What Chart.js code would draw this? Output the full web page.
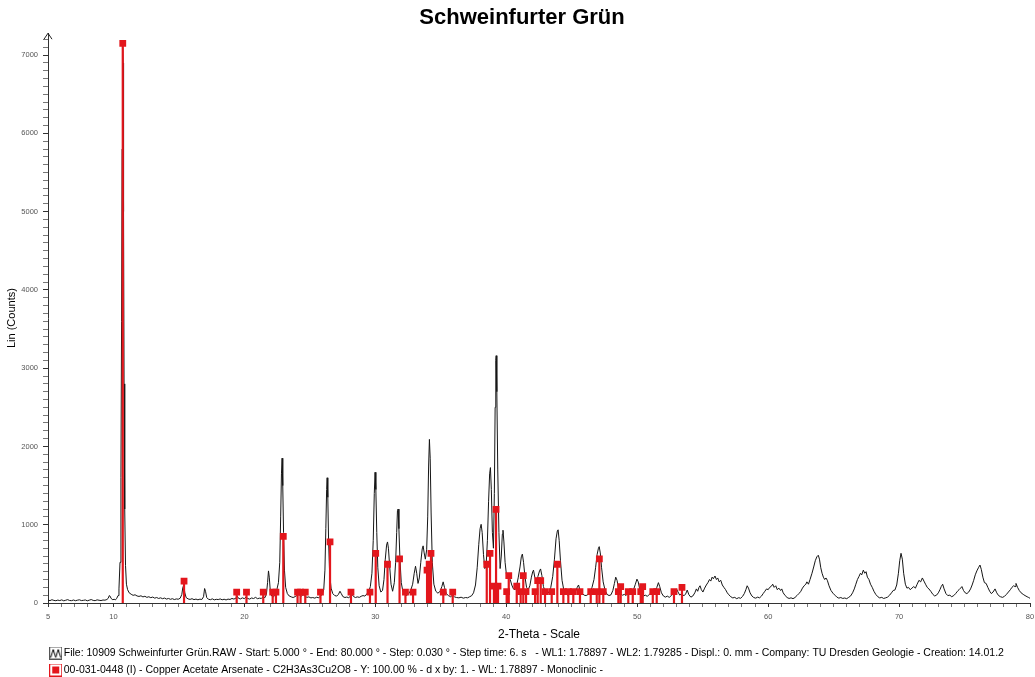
<!DOCTYPE html>
<html>
<head>
<meta charset="utf-8">
<script src="https://cdn.jsdelivr.net/npm/chart.js@4.4.0/dist/chart.umd.min.js"></script>
<style>
html,body{margin:0;padding:0;background:#ffffff;}
#wrap{width:1035px;height:677px;position:relative;}
canvas{display:block;}
</style>
</head>
<body>
<div id="wrap"><canvas id="c" width="1035" height="677"></canvas></div>
<script>
// ---------------- data ----------------
const chartTitle = 'Schweinfurter Grün';
const xAxisTitle = '2-Theta - Scale';
const yAxisTitle = 'Lin (Counts)';
const xTickLabels = [5, 10, 20, 30, 40, 50, 60, 70, 80];
const yTickLabels = [0, 1000, 2000, 3000, 4000, 5000, 6000, 7000];
const patternLabel = 'File: 10909 Schweinfurter Grün.RAW - Start: 5.000 ° - End: 80.000 ° - Step: 0.030 ° - Step time: 6. s   - WL1: 1.78897 - WL2: 1.79285 - Displ.: 0. mm - Company: TU Dresden Geologie - Creation: 14.01.2';
const referenceLabel = '00-031-0448 (I) - Copper Acetate Arsenate - C2H3As3Cu2O8 - Y: 100.00 % - d x by: 1. - WL: 1.78897 - Monoclinic -';

// measured pattern: [2-theta, counts]
const patternPoints = [
[5.00,38],[5.15,30],[5.30,42],[5.45,33],[5.60,29],[5.75,37],[5.90,31],[6.05,40],[6.20,28],[6.35,35],[6.50,43],[6.65,32],[6.80,30],[6.95,38],[7.10,29],[7.25,36],[7.40,41],[7.55,31],[7.70,34],[7.85,39],[8.00,28],[8.15,36],[8.30,44],[8.45,33],[8.60,30],[8.75,40],[8.90,35],[9.05,31],[9.20,38],[9.35,36],[9.50,45],[9.60,60],[9.68,95],[9.74,88],[9.82,58],[9.95,42],[10.05,48],[10.15,40],[10.25,60],[10.35,95],[10.42,180],[10.50,520],[10.57,1600],[10.62,3600],[10.66,5800],[10.70,7100],[10.73,6900],[10.77,5000],[10.81,2800],[10.86,1200],[10.92,480],[10.99,240],[11.08,170],[11.20,130],[11.35,112],[11.50,98],[11.65,105],[11.80,90],[11.95,84],[12.10,92],[12.25,78],[12.40,86],[12.55,72],[12.70,80],[12.85,68],[13.00,76],[13.15,62],[13.30,70],[13.45,58],[13.60,66],[13.75,55],[13.90,63],[14.05,50],[14.20,58],[14.35,47],[14.50,55],[14.65,44],[14.80,52],[14.95,48],[15.10,62],[15.22,110],[15.30,200],[15.37,225],[15.45,130],[15.55,70],[15.70,52],[15.85,46],[16.00,55],[16.15,43],[16.30,50],[16.45,41],[16.60,49],[16.75,45],[16.88,80],[16.96,185],[17.03,150],[17.12,70],[17.25,48],[17.40,42],[17.55,53],[17.70,40],[17.85,47],[18.00,44],[18.15,52],[18.30,41],[18.45,48],[18.60,39],[18.75,50],[18.90,45],[19.05,58],[19.20,50],[19.35,62],[19.45,88],[19.55,60],[19.70,52],[19.85,66],[20.00,55],[20.12,78],[20.25,58],[20.40,50],[20.55,64],[20.70,57],[20.85,72],[21.00,55],[21.15,62],[21.30,58],[21.45,85],[21.55,65],[21.68,110],[21.77,260],[21.84,410],[21.90,330],[21.98,150],[22.08,90],[22.20,78],[22.32,95],[22.45,150],[22.60,260],[22.70,520],[22.77,1100],[22.83,1650],[22.88,1850],[22.93,1500],[22.99,900],[23.06,420],[23.15,200],[23.28,120],[23.42,90],[23.58,78],[23.72,70],[23.88,82],[24.00,95],[24.10,130],[24.22,100],[24.35,88],[24.50,110],[24.62,85],[24.78,72],[24.92,78],[25.08,65],[25.22,70],[25.38,62],[25.52,74],[25.68,66],[25.82,90],[25.95,110],[26.06,170],[26.15,420],[26.22,950],[26.28,1450],[26.32,1600],[26.37,1350],[26.43,800],[26.51,380],[26.62,190],[26.75,120],[26.90,95],[27.05,88],[27.18,110],[27.30,150],[27.40,120],[27.52,82],[27.68,70],[27.82,76],[27.96,68],[28.10,85],[28.22,110],[28.34,82],[28.48,70],[28.62,78],[28.78,72],[28.92,86],[29.06,95],[29.20,88],[29.35,115],[29.50,150],[29.62,210],[29.74,380],[29.84,800],[29.92,1400],[29.98,1670],[30.04,1450],[30.11,900],[30.19,450],[30.29,220],[30.42,140],[30.55,160],[30.66,300],[30.76,560],[30.86,740],[30.93,780],[31.00,700],[31.09,480],[31.20,240],[31.32,150],[31.45,260],[31.55,520],[31.63,900],[31.69,1180],[31.74,1200],[31.80,950],[31.88,560],[31.98,260],[32.10,150],[32.25,110],[32.40,95],[32.55,120],[32.70,160],[32.85,240],[32.97,380],[33.07,470],[33.16,380],[33.26,250],[33.36,320],[33.47,520],[33.58,690],[33.65,730],[33.73,640],[33.82,560],[33.92,680],[34.00,1100],[34.07,1750],[34.13,2090],[34.19,1850],[34.26,1150],[34.35,520],[34.47,240],[34.62,150],[34.78,125],[34.95,150],[35.08,210],[35.18,270],[35.28,200],[35.42,120],[35.58,95],[35.75,80],[35.90,100],[36.05,78],[36.20,70],[36.38,66],[36.55,74],[36.72,62],[36.90,70],[37.05,66],[37.20,80],[37.35,92],[37.50,130],[37.65,230],[37.78,450],[37.90,750],[38.00,950],[38.08,1005],[38.16,900],[38.26,620],[38.36,440],[38.46,470],[38.56,800],[38.65,1300],[38.73,1650],[38.79,1730],[38.86,1450],[38.94,900],[39.02,700],[39.09,1400],[39.15,2500],[39.20,3100],[39.23,3160],[39.28,2700],[39.35,1700],[39.44,900],[39.53,440],[39.62,600],[39.70,880],[39.75,930],[39.82,780],[39.91,520],[40.00,380],[40.10,330],[40.20,360],[40.30,300],[40.42,230],[40.55,180],[40.68,170],[40.80,230],[40.92,330],[41.05,460],[41.15,590],[41.23,625],[41.32,520],[41.43,330],[41.55,200],[41.68,170],[41.80,220],[41.92,330],[42.02,400],[42.08,420],[42.18,330],[42.30,280],[42.42,340],[42.54,410],[42.62,435],[42.72,350],[42.84,210],[42.98,140],[43.12,115],[43.26,140],[43.40,200],[43.55,340],[43.68,560],[43.80,820],[43.90,920],[43.96,935],[44.04,800],[44.14,540],[44.26,290],[44.40,160],[44.55,120],[44.70,100],[44.85,115],[45.00,135],[45.15,115],[45.30,150],[45.42,200],[45.52,230],[45.62,170],[45.78,125],[45.95,100],[46.10,95],[46.25,110],[46.40,140],[46.55,200],[46.70,300],[46.82,450],[46.94,620],[47.04,700],[47.10,720],[47.18,640],[47.28,450],[47.40,270],[47.55,160],[47.70,110],[47.85,95],[48.00,105],[48.14,160],[48.26,250],[48.36,330],[48.46,290],[48.58,180],[48.72,120],[48.88,100],[49.02,110],[49.15,95],[49.30,120],[49.44,140],[49.58,130],[49.72,170],[49.86,240],[49.98,305],[50.08,270],[50.20,170],[50.34,110],[50.48,90],[50.62,100],[50.78,85],[50.92,110],[51.08,130],[51.22,110],[51.36,140],[51.50,200],[51.62,260],[51.72,210],[51.85,130],[52.00,90],[52.15,75],[52.30,88],[52.45,72],[52.60,95],[52.75,115],[52.88,150],[53.00,180],[53.12,140],[53.25,100],[53.40,125],[53.55,90],[53.70,115],[53.82,165],[53.95,105],[54.10,75],[54.25,90],
[54.40,130],[54.52,180],[54.62,150],[54.72,200],[54.80,220],[54.90,170],[55.02,140],[55.15,190],[55.28,230],[55.40,260],[55.52,300],[55.62,280],[55.72,330],[55.82,310],[55.94,345],[56.05,300],[56.15,320],[56.26,270],[56.38,290],[56.50,230],[56.62,200],[56.75,170],[56.88,130],[57.00,105],[57.15,80],[57.30,65],[57.45,72],[57.60,55],[57.75,68],[57.90,60],[58.05,85],[58.18,120],[58.30,170],[58.40,220],[58.50,190],[58.62,130],[58.76,90],[58.90,70],[59.05,62],[59.20,75],[59.35,66],[59.50,90],[59.62,120],[59.75,150],[59.88,180],[60.00,170],[60.12,200],[60.25,215],[60.35,240],[60.46,200],[60.58,220],[60.70,170],[60.82,190],[60.95,160],[61.04,180],[61.15,130],[61.30,95],[61.45,70],[61.60,58],[61.75,66],[61.90,55],[62.05,70],[62.20,95],[62.35,120],[62.50,150],[62.62,190],[62.75,220],[62.88,240],[62.96,270],[63.08,240],[63.20,300],[63.35,380],[63.48,460],[63.60,540],[63.72,590],[63.83,610],[63.92,560],[64.02,450],[64.12,380],[64.22,330],[64.32,300],[64.42,320],[64.52,290],[64.65,220],[64.80,160],[64.95,125],[65.10,100],[65.25,75],[65.40,62],[65.55,70],[65.70,58],[65.85,64],[66.00,55],[66.15,72],[66.30,90],[66.45,130],[66.58,180],[66.70,240],[66.82,300],[66.94,340],[67.05,380],[67.15,360],[67.27,420],[67.38,380],[67.48,400],[67.58,330],[67.70,300],[67.82,240],[67.95,200],[68.08,150],[68.22,110],[68.38,80],[68.52,65],[68.68,72],[68.82,58],[68.98,66],[69.12,75],[69.28,100],[69.42,130],[69.55,160],[69.68,165],[69.82,230],[69.95,380],[70.05,540],[70.15,635],[70.25,560],[70.35,380],[70.48,240],[70.60,190],[70.72,200],[70.85,170],[70.98,190],[71.12,210],[71.25,190],[71.38,240],[71.52,290],[71.65,270],[71.78,320],[71.90,280],[72.02,240],[72.15,200],[72.28,180],[72.42,150],[72.58,110],[72.72,90],[72.86,100],[73.00,130],[73.12,170],[73.22,210],[73.33,240],[73.44,180],[73.58,120],[73.72,95],[73.88,100],[74.02,80],[74.18,95],[74.32,120],[74.46,150],[74.58,170],[74.70,190],[74.80,210],[74.92,160],[75.05,130],[75.18,120],[75.32,140],[75.46,180],[75.58,230],[75.70,290],[75.82,360],[75.94,410],[76.06,450],[76.18,485],[76.28,430],[76.40,330],[76.52,260],[76.65,250],[76.78,200],[76.92,150],[77.05,120],[77.18,140],[77.33,180],[77.46,130],[77.60,95],[77.75,80],[77.90,72],[78.05,85],[78.20,110],[78.35,140],[78.50,170],[78.62,200],[78.75,220],[78.86,210],[78.93,250],[79.05,200],[79.18,160],[79.32,130],[79.48,110],[79.62,95],[79.78,80],[79.90,70],[80.00,60]
];

// reference pattern 00-031-0448: stick positions (2-theta) and heights
const refTheta = [10.71, 15.39, 19.41, 20.16, 21.44, 22.16, 22.41, 22.97, 24.06, 24.29, 24.65, 25.81, 26.54, 28.14, 29.59, 30.03, 30.93, 31.85, 32.30, 32.88, 33.95, 34.11, 34.25, 35.19, 35.91, 38.51, 38.76, 39.06, 39.22, 39.37, 40.03, 40.19, 40.80, 41.10, 41.30, 41.51, 42.20, 42.40, 42.63, 42.96, 43.47, 43.90, 44.36, 44.74, 45.12, 45.63, 46.45, 46.91, 47.11, 47.41, 48.56, 48.74, 49.32, 49.66, 50.27, 50.42, 51.19, 51.49, 52.81, 53.42];
const refIntensity = [7150, 280, 140, 140, 140, 140, 140, 850, 140, 140, 140, 140, 780, 140, 140, 635, 495, 565, 140, 140, 420, 495, 635, 140, 140, 495, 635, 215, 1195, 215, 145, 350, 215, 145, 350, 145, 145, 285, 285, 145, 145, 495, 145, 145, 145, 145, 145, 145, 565, 145, 145, 210, 145, 145, 145, 210, 145, 145, 145, 200];

// ---------------- chart ----------------
const FONT = '"Liberation Sans", Arial, Helvetica, sans-serif';
Chart.defaults.font.family = FONT;
Chart.defaults.color = '#000';

const RED = '#e3161c';

const markerData = refTheta.map((t, i) => ({x: t, y: refIntensity[i]}));
const stickData = [];
refTheta.forEach((t, i) => {
  stickData.push({x: t, y: 0}, {x: t, y: refIntensity[i]}, {x: t, y: null});
});
const patternData = patternPoints.map(p => ({x: p[0], y: p[1]}));

function makeIcon(kind) {
  const c = document.createElement('canvas');
  c.width = 13; c.height = 13;
  const g = c.getContext('2d');
  if (kind === 'pattern') {
    g.strokeStyle = '#555'; g.lineWidth = 1;
    g.strokeRect(0.5, 0.5, 12, 12);
    g.strokeStyle = '#000';
    g.beginPath();
    g.moveTo(1.5, 11); g.lineTo(4, 3); g.lineTo(6.5, 11); g.lineTo(9, 3); g.lineTo(11.5, 11);
    g.stroke();
  } else {
    g.strokeStyle = RED; g.lineWidth = 1;
    g.strokeRect(0.5, 0.5, 12, 12);
    g.fillStyle = RED;
    g.fillRect(3, 3, 7, 7);
  }
  return c;
}
const iconPattern = makeIcon('pattern');
const iconRef = makeIcon('ref');

const layoutPlugin = {
  id: 'layoutTweaks',
  afterLayout(chart) {
    const l = chart.legend;
    if (l) { l.left += 46.5; l.right += 46.5; }
    const t = chart.titleBlock;
    if (t) { t.left += 7; t.right += 7; }
  },
  afterDraw(chart) {
    const {ctx, chartArea} = chart;
    const x = chart.scales.y.right;
    const top = chartArea.top;
    ctx.save();
    ctx.strokeStyle = '#222';
    ctx.lineWidth = 1;
    ctx.beginPath();
    ctx.moveTo(x - 4, top + 6);
    ctx.lineTo(x, top);
    ctx.lineTo(x + 4, top + 6);
    ctx.stroke();
    ctx.restore();
  }
};

new Chart(document.getElementById('c'), {
  type: 'scatter',
  data: {
    datasets: [
      {
        label: 'refMarkers',
        data: markerData,
        pointStyle: 'rect',
        pointRadius: 4.8,
        pointHoverRadius: 4.8,
        backgroundColor: RED,
        borderColor: RED,
        borderWidth: 0,
        showLine: false
      },
      {
        label: referenceLabel,
        data: stickData,
        showLine: true,
        spanGaps: false,
        borderColor: RED,
        borderWidth: 2.2,
        pointRadius: 0,
        pointHoverRadius: 0
      },
      {
        label: patternLabel,
        data: patternData,
        showLine: true,
        borderColor: '#161616',
        borderWidth: 1,
        pointRadius: 0,
        pointHoverRadius: 0,
        tension: 0
      }
    ]
  },
  options: {
    responsive: false,
    animation: false,
    devicePixelRatio: 1,
    layout: {padding: {left: 0, right: 5, top: 0, bottom: 0}},
    plugins: {
      title: {
        display: true,
        text: chartTitle,
        color: '#000',
        font: {family: FONT, size: 22, weight: 'bold', lineHeight: 1.2},
        padding: {top: 5, bottom: 1.8}
      },
      legend: {
        display: true,
        position: 'bottom',
        align: 'start',
        maxHeight: 35.75,
        labels: {
          usePointStyle: true,
          pointStyleWidth: 5.5,
          padding: 6.5,
          color: '#000',
          font: {family: FONT, size: 10.5},
          generateLabels: () => [
            {text: patternLabel, pointStyle: iconPattern, datasetIndex: 2, hidden: false, lineWidth: 0, fontColor: '#000'},
            {text: referenceLabel, pointStyle: iconRef, datasetIndex: 1, hidden: false, lineWidth: 0, fontColor: '#000'}
          ]
        }
      },
      tooltip: {enabled: false}
    },
    scales: {
      x: {
        type: 'linear',
        min: 5,
        max: 80,
        afterFit(scale) { scale.height = 38.25; scale.paddingLeft = 0; scale.paddingRight = 0; },
        border: {display: true, color: '#333', width: 1},
        grid: {
          drawOnChartArea: false,
          drawTicks: true,
          tickLength: 4,
          tickColor: ctx => (ctx.tick && xTickLabels.includes(ctx.tick.value)) ? '#333' : '#777',
          tickWidth: 1
        },
        ticks: {
          stepSize: 1,
          autoSkip: false,
          maxRotation: 0,
          minRotation: 0,
          includeBounds: false,
          padding: 5,
          color: '#555',
          font: {family: FONT, size: 7.5},
          callback: v => xTickLabels.includes(v) ? String(v) : ''
        },
        title: {
          display: true,
          text: xAxisTitle,
          color: '#000',
          font: {family: FONT, size: 12, lineHeight: 1},
          padding: {top: 0, bottom: 0.5}
        }
      },
      y: {
        type: 'linear',
        min: 0,
        max: 7280,
        afterFit(scale) { scale.width = 48; scale.paddingTop = 0; scale.paddingBottom = 0; },
        border: {display: true, color: '#333', width: 1},
        grid: {
          drawOnChartArea: false,
          drawTicks: true,
          tickLength: 5,
          tickColor: ctx => (ctx.tick && yTickLabels.includes(ctx.tick.value)) ? '#333' : '#777',
          tickWidth: 1
        },
        ticks: {
          stepSize: 100,
          autoSkip: false,
          includeBounds: false,
          padding: 5,
          color: '#555',
          font: {family: FONT, size: 7.5},
          callback: v => yTickLabels.includes(v) ? String(v) : ''
        },
        title: {
          display: true,
          text: yAxisTitle,
          color: '#000',
          font: {family: FONT, size: 11, lineHeight: 1},
          padding: {top: 6.5, bottom: 0}
        }
      }
    }
  },
  plugins: [layoutPlugin]
});
</script>
</body>
</html>
